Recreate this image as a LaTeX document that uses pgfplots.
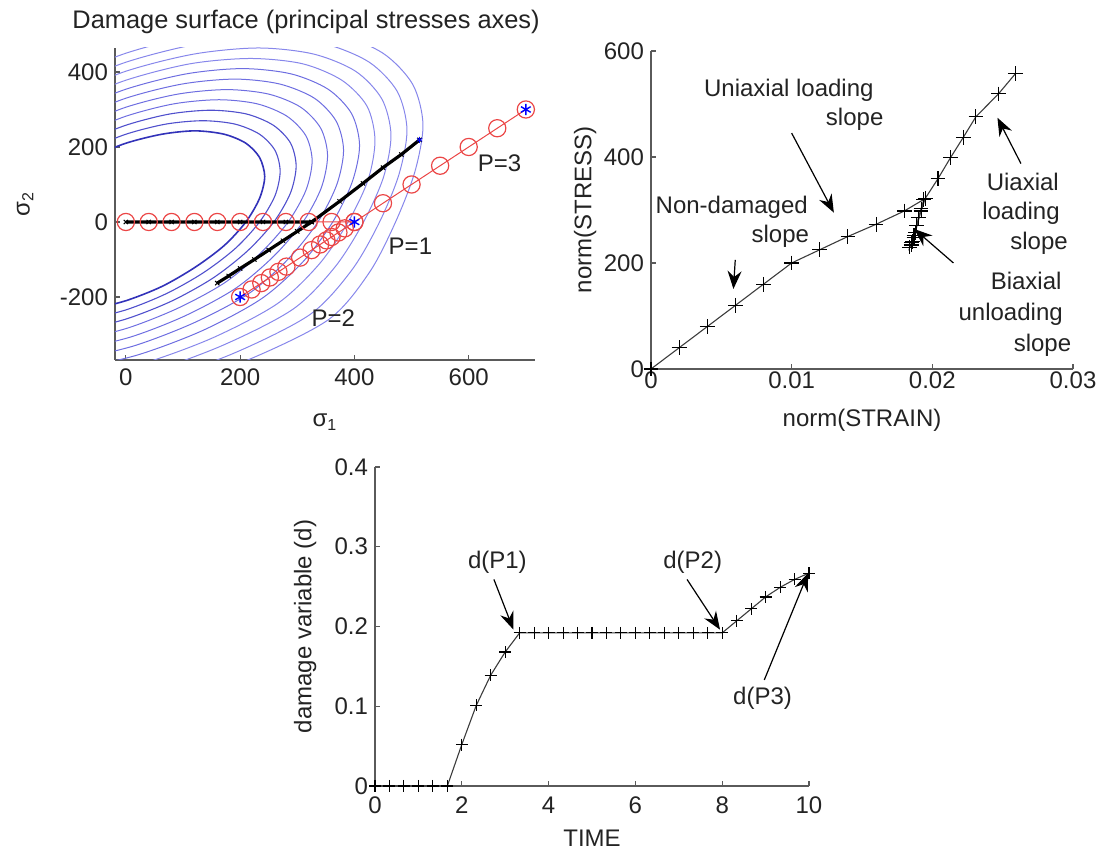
\documentclass[border=0pt]{standalone}
\usepackage{fontspec}
\setmainfont{Liberation Sans}
\usepackage{pgfplots}
\pgfplotsset{compat=1.18}
\usetikzlibrary{arrows.meta}
\definecolor{txt}{RGB}{35,35,35}
\definecolor{axc}{RGB}{90,90,90}
\definecolor{cA}{RGB}{50,50,185}
\definecolor{cB}{RGB}{80,80,205}
\definecolor{cC}{RGB}{110,110,225}
\definecolor{cD}{RGB}{135,135,235}
\definecolor{rc}{RGB}{235,70,70}
\definecolor{crv}{RGB}{60,60,60}
\newcommand{\fs}{\fontsize{12}{14}\selectfont}
\pgfplotsset{
  mstyle/.style={
    scale only axis,
    axis x line*=bottom, axis y line*=left,
    axis line style={axc, line width=0.6pt, -},
    tick style={axc, line width=0.6pt},
    major tick length=2.5pt,
    tick align=inside,
    tick label style={font=\fs, text=txt},
    label style={font=\fs, text=txt},
    /pgf/number format/assume math mode=true,
    scaled ticks=false,
  },
}
\tikzset{
  ann/.style={font=\fs, text=txt, inner sep=0pt},
  arr/.style={-{Stealth[length=9pt,width=7pt,inset=3pt]}, line width=0.6pt, black},
}
\begin{document}
\begin{tikzpicture}
\path[use as bounding box] (0,0) rectangle (552.5pt,427pt);

% ---------------- Plot 1 ----------------
\begin{axis}[mstyle, at={(57.5pt,247pt)}, anchor=south west,
  width=210pt, height=156pt,
  xmin=-19, xmax=716, ymin=-368, ymax=464,
  xtick={0,200,400,600}, ytick={-200,0,200,400},
  title={Damage surface (principal stresses axes)},
  title style={at={(axis description cs:0.455,1.083)}, anchor=center, yshift=-6pt, font=\fontsize{12.7}{15}\selectfont, text=txt},
  xlabel={σ\textsubscript{1}}, ylabel={σ\textsubscript{2}},
  xlabel style={at={(axis description cs:0.5,-0.2)}, anchor=center},
  ylabel style={at={(axis description cs:-0.214,0.5)}, anchor=center},
  xticklabel style={yshift=-1pt},
]
\addplot[cA, line width=0.8pt, smooth] coordinates {(-63,172) (0,210) (63,234) (121,243) (172,234) (210,210) (234,172) (243,121) (234,63) (210,0) (172,-63) (121,-121) (63,-172) (0,-210) (-63,-234)};
\addplot[cB, line width=0.55pt, smooth] coordinates {(-70,191) (0,234) (70,261) (135,270) (191,261) (234,234) (261,191) (270,135) (261,70) (234,0) (192,-70) (136,-135) (71,-191) (1,-234) (-70,-261)};
\addplot[cB, line width=0.55pt, smooth] coordinates {(-77,211) (0,258) (77,288) (149,298) (211,288) (258,258) (288,211) (298,149) (288,77) (259,0) (213,-77) (153,-149) (80,-211) (2,-258) (-75,-288)};
\addplot[cC, line width=0.5pt, smooth] coordinates {(-84,230) (0,282) (84,315) (163,326) (230,315) (282,282) (315,230) (326,163) (315,84) (284,0) (235,-84) (172,-163) (91,-230) (5,-282) (-80,-315)};
\addplot[cC, line width=0.5pt, smooth] coordinates {(-91,250) (0,306) (91,341) (177,353) (250,341) (306,306) (341,250) (353,177) (342,91) (310,0) (259,-91) (192,-177) (104,-250) (10,-306) (-85,-341)};
\addplot[cC, line width=0.5pt, smooth] coordinates {(-99,269) (0,330) (99,368) (191,381) (269,368) (330,330) (368,269) (381,191) (369,99) (336,0) (284,-99) (215,-191) (119,-269) (15,-330) (-89,-368)};
\addplot[cC, line width=0.5pt, smooth] coordinates {(-106,289) (0,354) (106,395) (204,409) (289,395) (354,354) (395,289) (409,204) (396,106) (362,0) (310,-106) (238,-204) (135,-289) (22,-354) (-92,-395)};
\addplot[cD, line width=0.5pt, smooth] coordinates {(-113,309) (0,378) (113,422) (218,436) (309,422) (378,378) (422,309) (436,218) (424,113) (389,0) (338,-113) (265,-218) (152,-309) (29,-378) (-93,-422)};
\addplot[cD, line width=0.5pt, smooth] coordinates {(-120,328) (0,402) (120,448) (232,464) (328,448) (402,402) (448,328) (464,232) (451,120) (416,0) (366,-120) (293,-232) (171,-328) (38,-402) (-94,-448)};
\addplot[cD, line width=0.5pt, smooth] coordinates {(-127,348) (0,426) (127,475) (246,492) (348,475) (426,426) (475,348) (492,246) (478,127) (444,0) (396,-127) (323,-246) (192,-348) (49,-426) (-95,-475)};
\addplot[cD, line width=0.5pt, smooth] coordinates {(-135,367) (0,450) (135,502) (260,520) (367,502) (450,450) (502,367) (520,260) (506,135) (472,0) (426,-135) (355,-260) (215,-367) (60,-450) (-95,-502)};
% red path
\addplot[rc, line width=0.5pt, mark=o, mark size=4.3pt, mark options={solid, line width=0.6pt}] coordinates {(0,0) (40,0) (80,0) (120,0) (160,0) (200,0) (240,0) (280,0) (320,0) (360,0) (400,0) (383,-17) (372,-28) (360,-40) (351,-49) (340,-60) (325,-75) (305,-95) (281,-119) (267,-133) (252,-148) (237,-163) (220,-180) (200,-200) (400,0) (450,50) (500,100) (550,150) (600,200) (650,250) (700,300)};
% black path
\addplot[black, line width=1.6pt, mark=x, mark size=1.5pt, mark options={line width=0.5pt}] coordinates {(0,0) (40,0) (80,0) (120,0) (160,0) (200,0) (240,0) (280,0) (325,0) (300,-25) (275,-50) (250,-75) (225,-100) (200,-124) (180,-144) (160,-163)};
\addplot[black, line width=1.6pt, mark=x, mark size=1.5pt, mark options={line width=0.5pt}] coordinates {(325,0) (374,55) (415,103) (450,145) (482,180) (514,219)};
% blue stars
\addplot[only marks, blue, mark=asterisk, mark size=2.8pt, mark options={line width=0.7pt}] coordinates {(400,0) (200,-200) (700,300)};
\addplot[only marks, blue, mark=asterisk, mark size=1.5pt] coordinates {(514,219)};
\node[ann] at (axis cs:654,156) {P=3};
\node[ann] at (axis cs:498,-66) {P=1};
\node[ann] at (axis cs:363,-257) {P=2};
\end{axis}

% ---------------- Plot 2 ----------------
\begin{axis}[mstyle, at={(325.5pt,242.5pt)}, anchor=south west,
  width=211pt, height=159pt,
  xmin=0, xmax=0.03, ymin=0, ymax=600,
  xtick={0,0.01,0.02,0.03}, xticklabels={0,0.01,0.02,0.03},
  ytick={0,200,400,600},
  xlabel={norm(STRAIN)}, ylabel={norm(STRESS)},
  xlabel style={at={(axis description cs:0.5,-0.16)}, anchor=center},
  ylabel style={at={(axis description cs:-0.156,0.5)}, anchor=center},
  xticklabel style={yshift=2pt},
  clip=false,
]
\addplot[crv, line width=0.55pt, mark=+, mark size=3.7pt, mark options={solid, black, line width=0.55pt}] coordinates {(0,0) (0.002,40) (0.004,80) (0.006,120) (0.008,160) (0.010,200) (0.012,225) (0.014,250) (0.016,273) (0.018,298) (0.0194,320) (0.0192,302) (0.0190,285) (0.0189,270) (0.0188,258) (0.0187,248) (0.0186,240) (0.0185,234) (0.0184,230) (0.0185,238) (0.0187,252) (0.0189,270) (0.0192,298) (0.0195,322) (0.0204,359) (0.0213,399) (0.0222,437) (0.0231,476) (0.0247,519) (0.0259,557)};
\node[ann] at (axis cs:0.0098,525) {Uniaxial loading};
\node[ann] at (axis cs:0.01448,472) {slope};
\draw[arr] (axis cs:0.0100,445) -- (axis cs:0.0130,295);
\node[ann] at (axis cs:0.00574,306) {Non-damaged};
\node[ann] at (axis cs:0.00919,250) {slope};
\draw[arr] (axis cs:0.00599,206) -- (axis cs:0.00586,151);
\node[ann] at (axis cs:0.02643,353) {Uiaxial};
\node[ann] at (axis cs:0.0263,294) {loading};
\node[ann] at (axis cs:0.02759,237.5) {slope};
\draw[arr] (axis cs:0.0263,387.5) -- (axis cs:0.02463,474);
\node[ann] at (axis cs:0.02667,165.6) {Biaxial};
\node[ann] at (axis cs:0.02557,103) {unloading};
\node[ann] at (axis cs:0.02783,44) {slope};
\draw[arr] (axis cs:0.0215,200) -- (axis cs:0.01872,264);
\end{axis}

% ---------------- Plot 3 ----------------
\begin{axis}[mstyle, at={(187.5pt,34pt)}, anchor=south west,
  width=217pt, height=159.5pt,
  xmin=0, xmax=10, ymin=0, ymax=0.4,
  xtick={0,2,4,6,8,10},
  ytick={0,0.1,0.2,0.3,0.4}, yticklabels={0,0.1,0.2,0.3,0.4},
  xlabel={TIME}, ylabel={damage variable (d)},
  xlabel style={at={(axis description cs:0.5,-0.163)}, anchor=center},
  ylabel style={at={(axis description cs:-0.161,0.5)}, anchor=center},
  xticklabel style={yshift=-2pt},
  clip=false,
]
\addplot[crv, line width=0.55pt, mark=+, mark size=3pt, mark options={solid, black, line width=0.55pt}] coordinates {(0,0) (0.333,0) (0.667,0) (1,0) (1.333,0) (1.667,0) (2,0.052) (2.333,0.101) (2.667,0.139) (3,0.168) (3.333,0.192) (3.667,0.192) (4,0.192) (4.333,0.192) (4.667,0.192) (5,0.192) (5.333,0.192) (5.667,0.192) (6,0.192) (6.333,0.192) (6.667,0.192) (7,0.192) (7.333,0.192) (7.667,0.192) (8,0.192) (8.333,0.207) (8.667,0.222) (9,0.237) (9.333,0.249) (9.667,0.259) (10,0.267)};
\node[ann] at (axis cs:2.82,0.28) {d(P1)};
\draw[arr] (axis cs:2.74,0.259) -- (axis cs:3.19,0.196);
\node[ann] at (axis cs:7.32,0.28) {d(P2)};
\draw[arr] (axis cs:7.19,0.259) -- (axis cs:7.95,0.196);
\node[ann] at (axis cs:8.93,0.11) {d(P3)};
\draw[arr] (axis cs:8.97,0.133) -- (axis cs:9.98,0.267);
\end{axis}
\end{tikzpicture}
\end{document}
